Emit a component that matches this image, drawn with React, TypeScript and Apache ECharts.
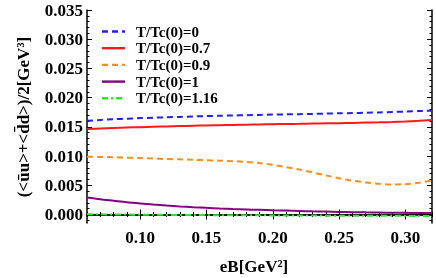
import React, { useEffect, useRef } from "react";
import * as echarts from "echarts";

const eB = [0.06, 0.07, 0.08, 0.09, 0.10, 0.11, 0.12, 0.13, 0.14, 0.15, 0.16, 0.17, 0.18, 0.19, 0.20, 0.21, 0.22, 0.23, 0.24, 0.25, 0.26, 0.27, 0.28, 0.29, 0.30, 0.31, 0.32];

const t0 = [0.01605, 0.01618, 0.0163, 0.0164, 0.0165, 0.01657, 0.01664, 0.01671, 0.01678, 0.01684, 0.0169, 0.01695, 0.017, 0.01705, 0.0171, 0.01714, 0.01718, 0.01722, 0.01727, 0.01732, 0.01737, 0.01742, 0.01748, 0.01755, 0.01762, 0.0177, 0.01778];
const t07 = [0.01463, 0.01472, 0.0148, 0.01488, 0.01495, 0.01502, 0.01508, 0.01514, 0.01519, 0.01524, 0.01529, 0.01533, 0.01537, 0.01541, 0.01545, 0.01549, 0.01552, 0.01556, 0.0156, 0.01564, 0.01568, 0.01573, 0.01578, 0.01584, 0.01592, 0.01603, 0.01617];
const t09 = [0.0099, 0.00985, 0.0098, 0.00973, 0.00966, 0.00958, 0.0095, 0.00944, 0.00937, 0.0093, 0.00922, 0.00913, 0.009, 0.0088, 0.0085, 0.0081, 0.0077, 0.0072, 0.0067, 0.0062, 0.0058, 0.0055, 0.00525, 0.00515, 0.0052, 0.00545, 0.0058];
const t1 = [0.0029, 0.0026, 0.00235, 0.0021, 0.0019, 0.0017, 0.00153, 0.00138, 0.00125, 0.00114, 0.00104, 0.00095, 0.00087, 0.0008, 0.00073, 0.00067, 0.00061, 0.00055, 0.0005, 0.00045, 0.00041, 0.00037, 0.00034, 0.00031, 0.00029, 0.00027, 0.00025];
const t116 = [0.00005, 0.00003, 0.00001, -0.00001, -0.00003, -0.00005, -0.00006, -0.00008, -0.00009, -0.0001, -0.00011, -0.00012, -0.00013, -0.00014, -0.00015, -0.00016, -0.00017, -0.00018, -0.00019, -0.0002, -0.00021, -0.00021, -0.00022, -0.00023, -0.00023, -0.00024, -0.00025];

const seriesNames = ["T/Tc(0)=0", "T/Tc(0)=0.7", "T/Tc(0)=0.9", "T/Tc(0)=1", "T/Tc(0)=1.16"];
const seriesColors = ["#1f1fff", "#ff1a1a", "#ff8c1a", "#800080", "#22ee22"];
const seriesDashes: (number[] | null)[] = [[6, 4], null, [6, 4], null, [6, 3, 2, 3]];
const xMajor = [0.1, 0.15, 0.2, 0.25, 0.3];
const yMajor = [0, 0.005, 0.01, 0.015, 0.02, 0.025, 0.03, 0.035];

const X_MIN = 0.06, X_MAX = 0.32, Y_MIN = -0.00145, Y_MAX = 0.035;

function minorTicks(from: number, to: number, step: number, majors: number[]) {
  const out: number[] = [];
  const n = Math.round((to - from) / step);
  for (let i = 0; i <= n; i++) {
    const v = Math.round((from + i * step) * 100000) / 100000;
    if (!majors.some((m) => Math.abs(m - v) < 1e-9)) out.push(v);
  }
  return out;
}

const FONT = "'Liberation Serif', 'DejaVu Serif', serif";

export default function App() {
  const ref = useRef<HTMLDivElement>(null);
  useEffect(() => {
    if (!ref.current) return;
    const chart = echarts.init(ref.current, null, { renderer: "svg" });
    const xMinor = minorTicks(0.06, 0.32, 0.01, xMajor);
    const yMinor = minorTicks(-0.001, 0.034, 0.001, yMajor);
    const lineAxis = { show: true, lineStyle: { color: "#000", width: 1.5 } };
    const mkX = (pos: string, major: boolean, labels: boolean, line: boolean) => ({
      type: "value",
      position: pos,
      min: X_MIN,
      max: X_MAX,
      axisLine: line ? lineAxis : { show: false },
      axisTick: { show: true, inside: true, length: major ? 5 : 2.5, customValues: major ? xMajor : xMinor, lineStyle: { color: "#000", width: 1 } },
      axisLabel: labels
        ? { show: true, customValues: xMajor, formatter: (v: number) => v.toFixed(2), color: "#000", fontFamily: FONT, fontWeight: "bold", fontSize: 17, margin: 6 }
        : { show: false },
      splitLine: { show: false },
    });
    const mkY = (pos: string, major: boolean, labels: boolean, line: boolean) => ({
      type: "value",
      position: pos,
      min: Y_MIN,
      max: Y_MAX,
      axisLine: line ? lineAxis : { show: false },
      axisTick: { show: true, inside: true, length: major ? 5 : 2.5, customValues: major ? yMajor : yMinor, lineStyle: { color: "#000", width: 1 } },
      axisLabel: labels
        ? { show: true, customValues: yMajor, formatter: (v: number) => v.toFixed(3), color: "#000", fontFamily: FONT, fontWeight: "bold", fontSize: 17, margin: 4 }
        : { show: false },
      splitLine: { show: false },
    });
    const mkData = (ys: number[]) => eB.map((x, i) => [x, ys[i]]);
    const allData = [t0, t07, t09, t1, t116];
    const series = allData.map((ys, k) => ({
      name: seriesNames[k],
      type: "line",
      data: mkData(ys),
      smooth: 0.3,
      symbol: "none",
      lineStyle: { color: seriesColors[k], width: 2, type: seriesDashes[k] ?? "solid" },
      itemStyle: { color: seriesColors[k] },
    }));
    const legendGraphics: any[] = [];
    seriesNames.forEach((name, k) => {
      const cy = 31.5 + k * 16.7;
      legendGraphics.push({
        type: "line",
        shape: { x1: 102, y1: cy, x2: 125, y2: cy },
        style: { stroke: seriesColors[k], lineWidth: 2.4, lineDash: seriesDashes[k] ?? undefined },
      });
      legendGraphics.push({
        type: "text",
        x: 136,
        y: cy,
        style: { text: name, fill: "#000", font: `bold 15px ${FONT}`, textAlign: "left", textVerticalAlign: "middle" },
      });
    });
    chart.setOption({
      animation: false,
      grid: { left: 87, top: 10, right: 4, bottom: 55, containLabel: false },
      xAxis: [mkX("bottom", true, true, true), mkX("bottom", false, false, false), mkX("top", true, false, true), mkX("top", false, false, false)],
      yAxis: [mkY("left", true, true, true), mkY("left", false, false, false), mkY("right", true, false, true), mkY("right", false, false, false)],
      series,
      graphic: [
        ...legendGraphics,
        {
          type: "text",
          x: 254,
          y: 266,
          style: { text: "eB[GeV²]", fill: "#000", font: `bold 17px ${FONT}`, textAlign: "center", textVerticalAlign: "middle" },
        },
        {
          type: "text",
          x: 23,
          y: 117,
          rotation: Math.PI / 2,
          style: { text: "(<ūu>+<d̄d>)/2[GeV³]", fill: "#000", font: `bold 17px ${FONT}`, textAlign: "center", textVerticalAlign: "middle" },
        },
      ],
    });
    return () => chart.dispose();
  }, []);
  return <div ref={ref} style={{ position: "fixed", left: 0, top: 0, width: 436, height: 278 }} />;
}
